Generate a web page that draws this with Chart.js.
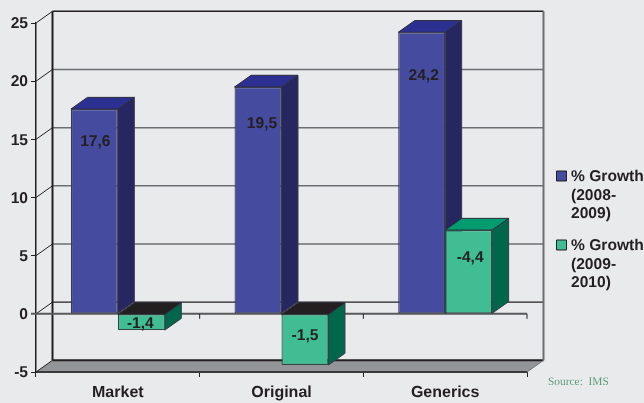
<!DOCTYPE html>
<html>
<head>
<meta charset="utf-8">
<style>
  html, body { margin: 0; padding: 0; background: #e9eaec; }
  canvas { display: block; }
</style>
<script src="https://cdn.jsdelivr.net/npm/chart.js@4"></script>
</head>
<body>
<canvas id="chart" width="644" height="403"></canvas>
<script>
const categories = ["Market", "Original", "Generics"];
const growth0809 = [17.6, 19.5, 24.2];
const growth0910 = [-1.4, -4.4, 7.2];
// printed labels do not agree with the drawn green bars in the source picture
const labels0809 = ["17,6", "19,5", "24,2"];
const labels0910 = ["-1,4", "-1,5", "-4,4"];
const legend0809 = ["% Growth", "(2008-", "2009)"];
const legend0910 = ["% Growth", "(2009-", "2010)"];
const yTicks = [25, 20, 15, 10, 5, 0, -5];
const sourceText = "Source:  IMS";

const DX = 16.5, DY = 11.7;
const DARK = "#231f20";
const labelSpots = [[0.845, 0.841, 0.85], [0.5, 0.41, 0.68]];
const labelShift = [[1, 4, 2], [-1, 0, 1.5]];

const faces = [
  { front: "#454c9f", top: "#2c3090", side: "#262761" },
  { front: "#41bd93", top: "#009b6f", side: "#00674b" },
];

function poly(ctx, pts, fill, stroke) {
  ctx.beginPath();
  pts.forEach((p, i) => (i ? ctx.lineTo(p[0], p[1]) : ctx.moveTo(p[0], p[1])));
  ctx.closePath();
  ctx.fillStyle = fill;
  ctx.fill();
  if (stroke) {
    ctx.strokeStyle = stroke;
    ctx.lineWidth = 1;
    ctx.stroke();
  }
}

function line(ctx, x1, y1, x2, y2, color, width) {
  ctx.beginPath();
  ctx.moveTo(x1, y1);
  ctx.lineTo(x2, y2);
  ctx.strokeStyle = color;
  ctx.lineWidth = width;
  ctx.stroke();
}

const walls = {
  id: "walls",
  beforeDraw(chart) {
    chart.ctx.textRendering = "geometricPrecision";
  },
  beforeDatasetsDraw(chart) {
    const { ctx, chartArea: a, scales } = chart;
    const y = scales.y;
    const zero = y.getPixelForValue(0);
    ctx.save();

    // floor
    poly(ctx, [[a.left, a.bottom], [a.right, a.bottom], [a.right + DX, a.bottom - DY], [a.left + DX, a.bottom - DY]], "#939598");
    line(ctx, a.left, a.bottom, a.right, a.bottom, "#3a3a3c", 2);
    line(ctx, a.left + DX, a.bottom - DY, a.right + DX, a.bottom - DY, DARK, 2);

    // back wall lines
    yTicks.forEach((t) => {
      const py = y.getPixelForValue(t) - DY;
      if (t > 0 && t < 25) line(ctx, a.left + DX, py, a.right + DX, py, "#6d6e71", 1.5);
      if (t === 0) line(ctx, a.left + DX, py, a.right + DX, py, DARK, 1.2);
      line(ctx, a.left, py + DY, a.left + DX, py, DARK, 1);
    });
    line(ctx, a.left + DX, a.top - DY, a.right + DX, a.top - DY, DARK, 1.5);
    line(ctx, a.left + DX, a.top - DY, a.left + DX, a.bottom - DY, DARK, 2);
    line(ctx, a.right + DX, a.top - DY, a.right + DX, a.bottom - DY, "#6d6e71", 2);
    line(ctx, a.right, a.bottom, a.right + DX, a.bottom - DY, "#6d6e71", 1);

    // front zero line with its ticks
    line(ctx, a.left - 5, zero, a.right, zero, "#58595b", 2);
    for (let i = 1; i <= categories.length; i++) {
      const px = a.left + (i * (a.right - a.left)) / categories.length;
      line(ctx, px, zero, px, zero + 5, DARK, 1);
    }

    // depth faces of the bars, read from the bar elements
    chart.data.datasets.forEach((ds, d) => {
      chart.getDatasetMeta(d).data.forEach((bar) => {
        const l = bar.x - bar.width / 2, r = bar.x + bar.width / 2;
        const top = Math.min(bar.y, bar.base), bottom = Math.max(bar.y, bar.base);
        const f = faces[d];
        const topFill = bar.y > bar.base ? DARK : f.top;
        poly(ctx, [[r, top], [r + DX, top - DY], [r + DX, bottom - DY], [r, bottom]], f.side, "#3a3a4a");
        poly(ctx, [[l, top], [l + DX, top - DY], [r + DX, top - DY], [r, top]], topFill, "#2a2a3a");
      });
    });
    ctx.restore();
  },
  afterDatasetsDraw(chart) {
    const { ctx } = chart;
    ctx.save();
    ctx.fillStyle = DARK;
    ctx.textAlign = "center";
    ctx.textBaseline = "middle";
    ctx.font = "bold 15.6px 'Liberation Sans', Arial, sans-serif";
    [labels0809, labels0910].forEach((texts, d) => {
      chart.getDatasetMeta(d).data.forEach((bar, i) => {
        const py = bar.base + (bar.y - bar.base) * labelSpots[d][i];
        ctx.fillText(texts[i], bar.x + labelShift[d][i], py + 1);
      });
    });

    // legend, wrapped the way the picture has it
    [legend0809, legend0910].forEach((rows, d) => {
      const top = d === 0 ? 176 : 245;
      poly(ctx, [[556.5, top - 5], [566.5, top - 5], [566.5, top + 5], [556.5, top + 5]], faces[d].front, DARK);
      ctx.fillStyle = DARK;
      ctx.textAlign = "left";
      rows.forEach((row, i) => ctx.fillText(row, 571, top + 1 + i * 18.4));
    });

    ctx.font = "11.4px 'Liberation Serif', 'Times New Roman', serif";
    ctx.fillStyle = "#5d9b7a";
    ctx.fillText(sourceText, 548, 382.5);
    ctx.restore();
  },
};

new Chart(document.getElementById("chart"), {
  type: "bar",
  data: {
    labels: categories,
    datasets: [
      { label: legend0809.join(" "), data: growth0809, backgroundColor: faces[0].front, borderColor: "#3a3a4a", borderWidth: 1.2, borderSkipped: false },
      { label: legend0910.join(" "), data: growth0910, backgroundColor: faces[1].front, borderColor: "#2f4a44", borderWidth: 1.2, borderSkipped: false },
    ],
  },
  options: {
    responsive: false,
    animation: false,
    categoryPercentage: 0.574,
    barPercentage: 1,
    layout: { padding: { top: 23, right: 117, left: 0, bottom: 0 } },
    plugins: { legend: { display: false }, title: { display: false }, tooltip: { enabled: false } },
    scales: {
      x: {
        afterFit: (s) => { s.height = 31; },
        grid: { drawOnChartArea: false, tickLength: 5, color: DARK, lineWidth: 1 },
        border: { color: "#3a3a3c", width: 1 },
        ticks: { color: DARK, maxRotation: 0, padding: 6, font: { family: "'Liberation Sans', Arial, sans-serif", size: 16, weight: "bold" } },
      },
      y: {
        min: -5,
        max: 25,
        afterFit: (s) => { s.width = 36; },
        afterBuildTicks: (s) => { s.ticks = yTicks.map((v) => ({ value: v })); },
        grid: { drawOnChartArea: false, tickLength: 5, color: DARK, lineWidth: 1 },
        border: { color: DARK, width: 1.5 },
        ticks: { color: DARK, padding: 3, labelOffset: 1, font: { family: "'Liberation Sans', Arial, sans-serif", size: 15.6, weight: "bold" } },
      },
    },
  },
  plugins: [walls],
});
</script>
</body>
</html>
